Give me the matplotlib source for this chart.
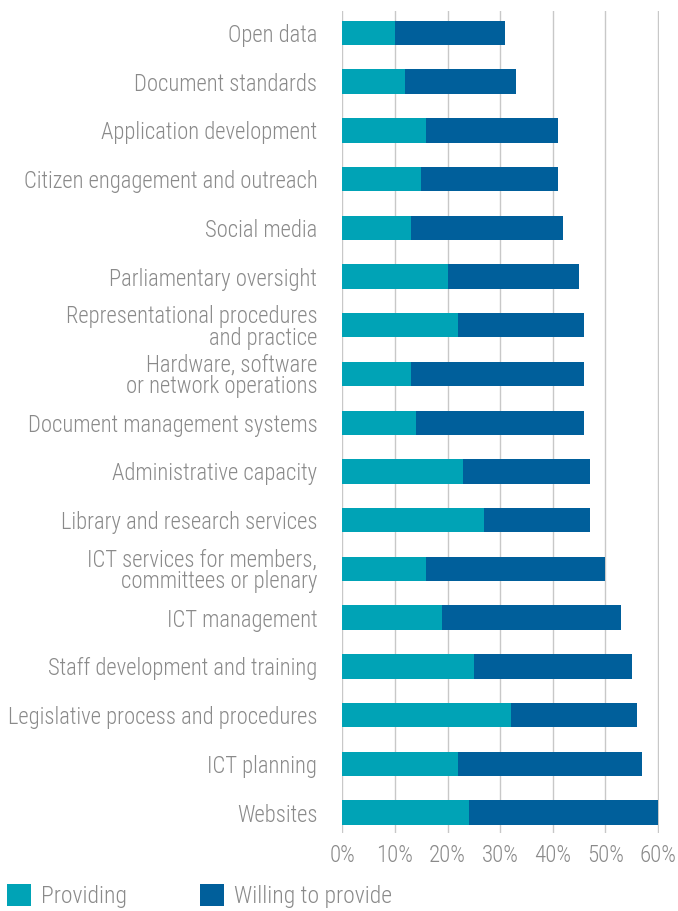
import matplotlib
matplotlib.use("Agg")
import matplotlib.pyplot as plt
import numpy as np

categories = [
    "Open data",
    "Document standards",
    "Application development",
    "Citizen engagement and outreach",
    "Social media",
    "Parliamentary oversight",
    "Representational procedures\nand practice",
    "Hardware, software\nor network operations",
    "Document management systems",
    "Administrative capacity",
    "Library and research services",
    "ICT services for members,\ncommittees or plenary",
    "ICT management",
    "Staff development and training",
    "Legislative process and procedures",
    "ICT planning",
    "Websites",
]
providing = [10, 12, 16, 15, 13, 20, 22, 13, 14, 23, 27, 16, 19, 25, 32, 22, 24]
total = [31, 33, 41, 41, 42, 45, 46, 46, 46, 47, 47, 50, 53, 55, 56, 57, 60]
willing = [t - p for t, p in zip(total, providing)]
xticks = [0, 10, 20, 30, 40, 50, 60]
xticklabels = ["0%", "10%", "20%", "30%", "40%", "50%", "60%"]

TEAL = "#00A3B6"
BLUE = "#005F9B"
GREY = "#8a8a8a"
FONT = ["Roboto Condensed", "Liberation Sans Narrow", "Roboto", "DejaVu Sans"]
plt.rcParams["font.family"] = FONT
plt.rcParams["font.weight"] = "light"

fig = plt.figure(figsize=(6.78, 9.11), dpi=100)
ax = fig.add_axes([0.5049, 0.0856, 0.972 - 0.5049, 0.9879 - 0.0856])

y = np.arange(len(categories))
b1 = ax.barh(y, providing, height=0.5, color=TEAL, label="Providing", zorder=3)
b2 = ax.barh(y, willing, left=providing, height=0.5, color=BLUE,
             label="Willing to provide", zorder=3)

ax.set_ylim(len(categories) - 1 + 0.42, -0.45)
ax.set_xlim(0, 60.2)
ax.set_xticks(xticks)
ax.set_xticklabels(xticklabels)
ax.set_yticks(y)
ax.set_yticklabels(categories, linespacing=0.93)
ax.tick_params(axis="both", length=0, colors=GREY)
ax.tick_params(axis="x", pad=8, labelsize=16.5)
ax.tick_params(axis="y", pad=18, labelsize=16.3)
for s in ax.spines.values():
    s.set_visible(False)
ax.xaxis.grid(True, color="#c8c8c8", linewidth=1.0, zorder=0)
ax.set_axisbelow(True)

fig.legend(handles=[b1, b2], loc="center left", bbox_to_anchor=(0.0103, 0.0165),
           ncol=2, frameon=False, fontsize=17, labelcolor=GREY,
           handlelength=1.02, handleheight=1.02, handletextpad=0.42,
           columnspacing=3.1, borderpad=0, borderaxespad=0)

fig.savefig("out.png", dpi=100)
